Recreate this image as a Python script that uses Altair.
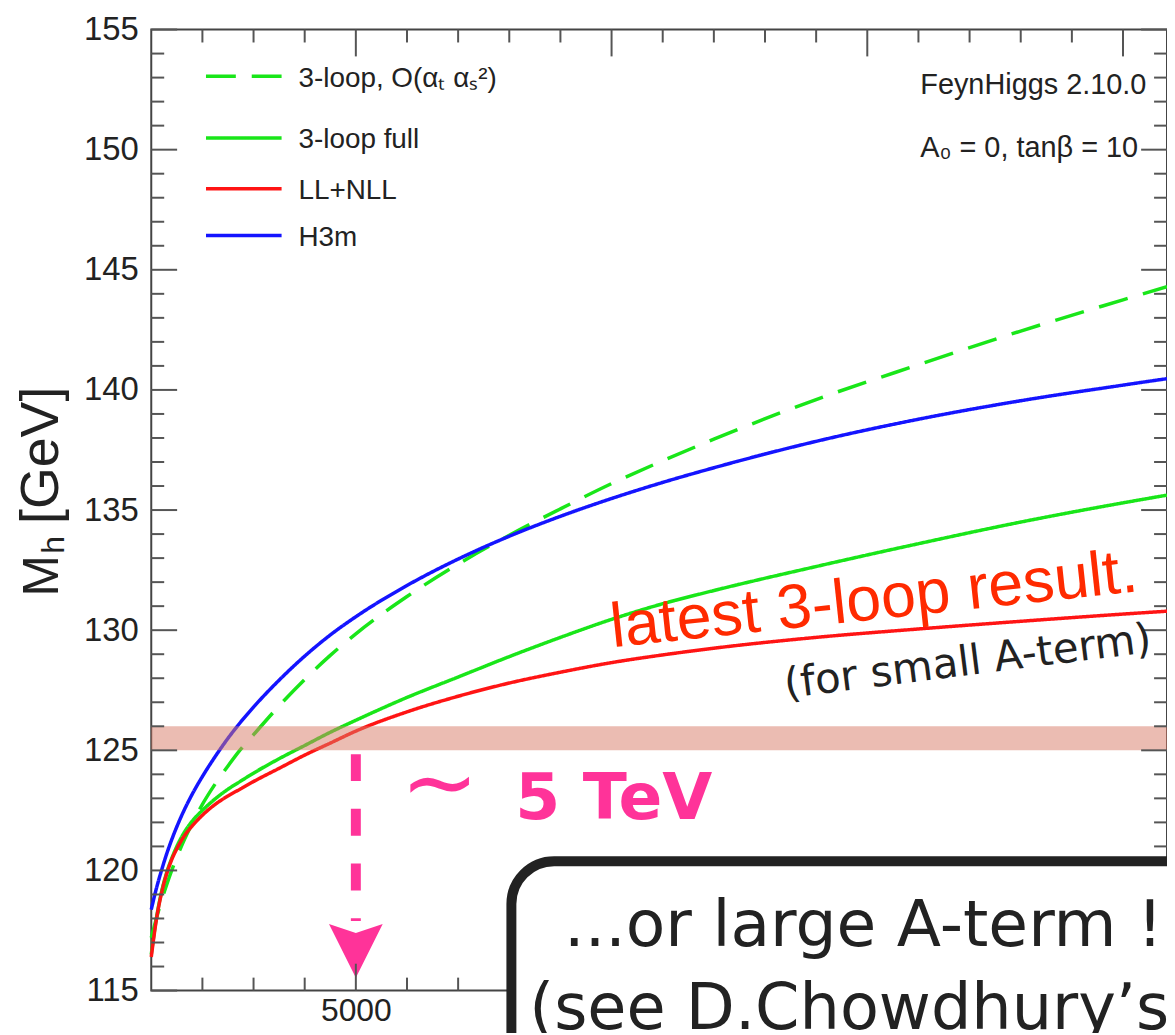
import altair as alt
import pandas as pd

# ---------------- data ----------------
stop_mass = [1000, 1100, 1200, 1300, 1400, 1500, 1650, 1800, 2000, 2250, 2500, 2750,
             3000, 3500, 4000, 4500, 5000, 6000, 7000, 8000, 9000, 10000, 11000,
             12000, 14000, 16000, 18000, 20000, 20860]

mh_3loop_atas2 = [117.2, 118.0, 118.75, 119.4, 120.0, 120.55, 121.3, 121.95, 122.75,
                  123.6, 124.35, 125.05, 125.65, 126.85, 127.95, 128.95, 129.85, 131.4,
                  132.75, 133.95, 135.05, 136.1, 137.05, 137.95, 139.6, 141.05, 142.45,
                  143.75, 144.3]
mh_3loop_full = [116.5, 118.0, 119.1, 119.9, 120.5, 121.0, 121.6, 122.05, 122.5, 122.98,
                 123.38, 123.72, 124.05, 124.65, 125.2, 125.75, 126.25, 127.2, 128.05,
                 128.9, 129.7, 130.45, 131.1, 131.65, 132.65, 133.6, 134.5, 135.3, 135.62]
mh_ll_nll = [116.4, 117.95, 119.05, 119.85, 120.45, 120.9, 121.45, 121.85, 122.3, 122.75,
             123.1, 123.4, 123.7, 124.25, 124.8, 125.3, 125.8, 126.6, 127.25, 127.8,
             128.25, 128.65, 128.97, 129.25, 129.7, 130.05, 130.37, 130.67, 130.79]
mh_h3m = [118.37, 119.25, 120.0, 120.68, 121.28, 121.82, 122.54, 123.17, 123.91, 124.74,
          125.5, 126.18, 126.8, 127.92, 128.92, 129.8, 130.56, 131.86, 132.96, 133.91,
          134.74, 135.48, 136.15, 136.76, 137.86, 138.78, 139.55, 140.2, 140.47]

series_names = ["3-loop, O(αₜ αₛ²)", "3-loop full", "LL+NLL", "H3m"]
series_values = [mh_3loop_atas2, mh_3loop_full, mh_ll_nll, mh_h3m]
series_colors = ["#19e619", "#19e619", "#ff1414", "#1414ff"]
series_dash = [[30, 16], [1, 0], [1, 0], [1, 0]]

y_major = [115, 120, 125, 130, 135, 140, 145, 150, 155]
y_minor = [v for v in range(115, 156) if v % 5 != 0]
x_major = [5000, 10000, 15000, 20000]
x_minor = [v for v in range(2000, 20001, 1000) if v % 5000 != 0]
x_labels_visible = [5000]          # the others sit under the text box

band_low, band_high = 125, 126
arrow_mass = 5000
arrow_top, arrow_bottom, arrow_head = 126, 117.9, 116.65

# ---------------- layout ----------------
W, H = 1021, 966
FONT = "Liberation Sans"
HAND = "DejaVu Sans"
PINK = "#ff3399"

xscale = alt.Scale(domain=[1000, 20860], nice=False, zero=False)
yscale = alt.Scale(domain=[115, 155], nice=False, zero=False)
x_axis = alt.Axis(values=x_labels_visible, format="d", ticks=False, tickSize=0,
                  domain=False, grid=False, labelFontSize=32, labelPadding=5,
                  labelColor="#222", labelFont=FONT, title=None, labelOverlap=False)
y_axis = alt.Axis(values=y_major, ticks=False, tickSize=0, domain=False, grid=False,
                  labelFontSize=33, labelPadding=13, labelColor="#222",
                  labelFont=FONT, title=None)


def X(field):
    return alt.X(field, scale=xscale, axis=x_axis)


def Y(field):
    return alt.Y(field, scale=yscale, axis=y_axis)


rows = []
for name, vals in zip(series_names, series_values):
    for m, v in zip(stop_mass, vals):
        rows.append({"series": name, "mass": m, "mh": v})
df = pd.DataFrame(rows)

lines = alt.Chart(df).mark_line(interpolate="monotone", strokeWidth=3.5).encode(
    x=X("mass:Q"),
    y=Y("mh:Q"),
    color=alt.Color("series:N", scale=alt.Scale(domain=series_names, range=series_colors),
                    legend=None),
    strokeDash=alt.StrokeDash("series:N",
                              scale=alt.Scale(domain=series_names, range=series_dash),
                              legend=None),
)

band = alt.Chart(pd.DataFrame({"lo": [band_low], "hi": [band_high]})).mark_rect(
    color="#d77965", opacity=0.5).encode(
    x=alt.value(0), x2=alt.value(W), y=Y("lo:Q"), y2="hi:Q")

arrow = alt.Chart(pd.DataFrame({"m": [arrow_mass], "top": [arrow_top], "bot": [arrow_bottom]})
                  ).mark_rule(color=PINK, strokeWidth=10, strokeDash=[27, 28],
                              strokeDashOffset=27).encode(
    x=X("m:Q"), y=Y("top:Q"), y2="bot:Q")

head = alt.Chart(pd.DataFrame({"m": [arrow_mass], "v": [arrow_head]})).mark_point(
    shape="M-1,-1L0,-0.667L1,-1L0,1Z", size=2916, filled=True, color=PINK,
    opacity=1, strokeWidth=0).encode(x=X("m:Q"), y=Y("v:Q"))


def tick_layer(values, orient, length):
    d = pd.DataFrame({"v": values})
    base = alt.Chart(d).mark_rule(color="#555", strokeWidth=2)
    if orient == "left":
        return base.encode(y=Y("v:Q"), x=alt.value(0), x2=alt.value(length))
    if orient == "right":
        return base.encode(y=Y("v:Q"), x=alt.value(W - length), x2=alt.value(W))
    if orient == "top":
        return base.encode(x=X("v:Q"), y=alt.value(0), y2=alt.value(length))
    return base.encode(x=X("v:Q"), y=alt.value(H - length), y2=alt.value(H))


ticks = [tick_layer(y_major, o, 26) for o in ("left", "right")] + \
        [tick_layer(y_minor, o, 13) for o in ("left", "right")] + \
        [tick_layer(x_major, o, 27) for o in ("top", "bottom")] + \
        [tick_layer(x_minor, o, 13) for o in ("top", "bottom")]


def text(t, x, y, **kw):
    return alt.Chart(pd.DataFrame({"t": [t]})).mark_text(**kw).encode(
        x=alt.value(x), y=alt.value(y), text="t:N")


# legend (top left)
legend_y_line = [47, 109, 160, 207]
legend_y_text = [58, 119, 170, 218]
legend = []
for name, col, dash, yl, yt in zip(series_names, series_colors, series_dash,
                                   legend_y_line, legend_y_text):
    legend.append(alt.Chart(pd.DataFrame({"n": [name]})).mark_rule(
        color=col, strokeWidth=3.5, strokeDash=dash).encode(
        x=alt.value(55), x2=alt.value(131), y=alt.value(yl)))
    legend.append(text(name, 148, yt, align="left", baseline="alphabetic",
                       font=FONT, fontSize=28, color="#222"))

info = [
    text("FeynHiggs 2.10.0", 773, 65, align="left", baseline="alphabetic",
         font=FONT, fontSize=29, color="#222"),
    text("A₀ = 0, tanβ = 10", 773, 128, align="left", baseline="alphabetic",
         font=FONT, fontSize=29, color="#222"),
    # y-axis title  M_h [GeV]  (rotated, reading upwards)
    text("M", -94, 570, align="left", baseline="alphabetic", angle=270,
         font=FONT, fontSize=50, color="#222"),
    text("h", -88, 527, align="left", baseline="alphabetic", angle=270,
         font=FONT, fontSize=32, color="#222"),
    text("[GeV]", -94, 497, align="left", baseline="alphabetic", angle=270,
         font=FONT, fontSize=54, color="#222"),
]

notes = [
    text("latest 3-loop result.", 464, 621, align="left", baseline="alphabetic",
         angle=353.9, font=FONT, fontSize=63, color="#ff2a00"),
    text("(for small A-term)", 638, 672, align="left", baseline="alphabetic",
         angle=352.8, font=HAND, fontSize=42, color="#222"),
    text("∼", 290, 761, align="center", baseline="middle", font=HAND,
         fontSize=94, color=PINK),
    text("5 TeV", 366, 794, align="left", baseline="alphabetic", font=HAND,
         fontSize=65, fontWeight="bold", color=PINK),
]

box = alt.Chart(pd.DataFrame({"b": [1]})).mark_rect(
    fill="white", stroke="#222", strokeWidth=10, cornerRadius=43).encode(
    x=alt.value(362), x2=alt.value(1250), y=alt.value(836), y2=alt.value(1150))

box_text = [
    text("...or large A-term !", 415, 921, align="left", baseline="alphabetic",
         font=HAND, fontSize=65, color="#222"),
    text("(see D.Chowdhury’s", 380, 1005, align="left", baseline="alphabetic",
         font=HAND, fontSize=64, color="#222"),
]

chart = alt.layer(
    lines, band, arrow, head, *ticks, *legend, *info, *notes, box, *box_text
).properties(
    width=W, height=H,
    autosize=alt.AutoSizeParams(type="none"),
    padding={"left": 144, "top": 19, "right": 0, "bottom": 40},
).configure_view(stroke="#444", strokeWidth=2)

chart.save("out.html", embed_options={"renderer": "svg", "actions": False})
